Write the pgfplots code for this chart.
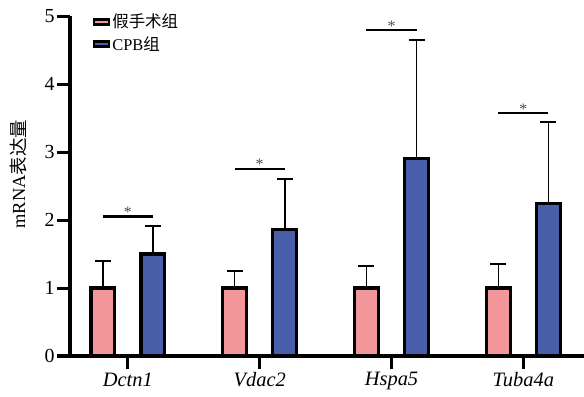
\documentclass[border=0pt]{standalone}
\usepackage{fontspec}
\setmainfont{Liberation Serif}
\newfontfamily\cjk{Noto Sans CJK SC}
\usepackage{pgfplots}
\pgfplotsset{compat=1.18}
\definecolor{cpink}{RGB}{243,150,153}
\definecolor{cblue}{RGB}{72,94,168}
\begin{document}
\begin{tikzpicture}
\useasboundingbox (0,0) rectangle (584bp,397bp);
\begin{axis}[
  at={(70bp,41bp)}, anchor=south west,
  scale only axis, width=514bp, height=340bp,
  xmin=0.561, xmax=4.46, ymin=0, ymax=5,
  axis x line*=bottom, axis y line*=left,
  axis line style={line width=3bp, black, -},
  tick align=outside, major tick length=13bp,
  tick style={line width=3bp, black},
  xtick={1,2,3,4},
  xticklabels={\textit{Dctn1},\textit{Vdac2},\textit{Hspa5},\textit{Tuba4a}},
  ytick={0,1,2,3,4,5},
  /pgf/number format/assume math mode=true,
  tick label style={font=\fontsize{20}{20}\selectfont},
  y tick label style={xshift=1bp},
  x tick label style={font=\fontsize{20.5}{20.5}\selectfont},
  ylabel={mRNA{\cjk 表达量}},
  ylabel style={font=\fontsize{18.5}{18.5}\selectfont, at={(axis description cs:-0.101,0.535)}, anchor=center},
  ybar, bar width=0.18,
  legend style={draw=none, fill=none, at={(axis description cs:0.044,1.012)}, anchor=north west,
    font=\fontsize{16.5}{16.5}\selectfont, row sep=3bp, inner sep=0pt},
  legend cell align=left,
  error bars/y dir=plus, error bars/y explicit,
  error bars/error bar style={line width=1.6bp, black},
  error bars/error mark options={rotate=90, mark size=8bp, line width=2bp, black},
]
\addplot[fill=cpink, draw=black, line width=3.2bp, bar shift=-0.19,
  legend image code/.code={\draw[fill=cpink, draw=black, line width=2.5bp] (0bp,-2.5bp) rectangle (15bp,2.5bp);}]
  coordinates {(1,1.00) +- (0,0.39) (2,1.00) +- (0,0.25) (3,1.00) +- (0,0.32) (4,1.00) +- (0,0.35)};
\addlegendentry{{\cjk 假手术组}}
\addplot[fill=cblue, draw=black, line width=3.2bp, bar shift=0.19,
  legend image code/.code={\draw[fill=cblue, draw=black, line width=2.5bp] (0bp,-2.5bp) rectangle (15bp,2.5bp);}]
  coordinates {(1,1.50) +- (0,0.41) (2,1.86) +- (0,0.74) (3,2.90) +- (0,1.75) (4,2.24) +- (0,1.20)};
\addlegendentry{CPB{\cjk 组}}
\addplot[sharp plot, no marks, line width=2.4bp, black, forget plot, error bars/y dir=none] coordinates {(0.81,2.05) (1.19,2.05)};
\addplot[sharp plot, no marks, line width=2.4bp, black, forget plot, error bars/y dir=none] coordinates {(1.81,2.75) (2.19,2.75)};
\addplot[sharp plot, no marks, line width=2.4bp, black, forget plot, error bars/y dir=none] coordinates {(2.81,4.79) (3.19,4.79)};
\addplot[sharp plot, no marks, line width=2.4bp, black, forget plot, error bars/y dir=none] coordinates {(3.81,3.57) (4.19,3.57)};
\node[anchor=base, font=\fontsize{16}{16}\selectfont, text=black!70, yshift=-1bp] at (axis cs:1,2.05) {*};
\node[anchor=base, font=\fontsize{16}{16}\selectfont, text=black!70, yshift=-1bp] at (axis cs:2,2.75) {*};
\node[anchor=base, font=\fontsize{16}{16}\selectfont, text=black!70, yshift=-1bp] at (axis cs:3,4.79) {*};
\node[anchor=base, font=\fontsize{16}{16}\selectfont, text=black!70, yshift=-1bp] at (axis cs:4,3.57) {*};
\end{axis}
\end{tikzpicture}
\end{document}
